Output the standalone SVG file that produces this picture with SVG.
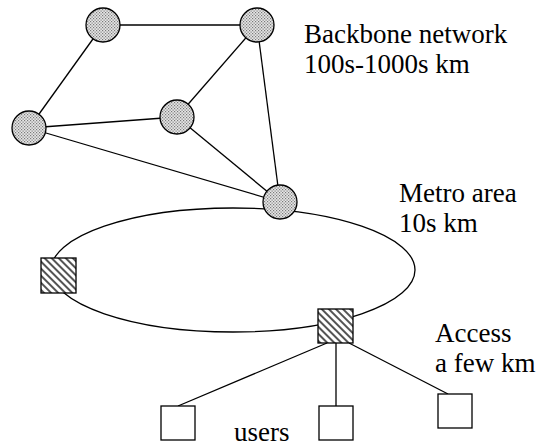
<svg xmlns="http://www.w3.org/2000/svg" width="539" height="448" viewBox="0 0 539 448">
  <defs>
    <!-- fine stipple used for backbone routers -->
    <pattern id="dots" width="3" height="3" patternUnits="userSpaceOnUse">
      <rect width="3" height="3" fill="#e6e6e6"/>
      <rect x="0" y="0" width="1.2" height="1.2" fill="#7a7a7a"/>
      <rect x="1.5" y="1.5" width="1.2" height="1.2" fill="#7a7a7a"/>
    </pattern>
    <!-- diagonal hatching used for metro switches -->
    <pattern id="hatch" width="5" height="5" patternUnits="userSpaceOnUse" patternTransform="rotate(45)">
      <rect width="5" height="5" fill="#ffffff"/>
      <rect x="0" y="0" width="5" height="2" fill="#555"/>
    </pattern>
    <style>
      .edge { stroke: #000; stroke-width: 1.3; fill: none; }
      .router { fill: url(#dots); stroke: #000; stroke-width: 1.3; }
      .switch { fill: url(#hatch); stroke: #000; stroke-width: 1.3; }
      .user { fill: #fff; stroke: #000; stroke-width: 1.3; }
      .label { font-family: "Liberation Serif", "Times New Roman", "Liberation Sans", serif; font-size: 27px; fill: #000; }
    </style>
  </defs>

  <rect width="539" height="448" fill="#fff"/>

  <g id="connectors">
    <line class="edge" x1="103" y1="25" x2="257" y2="25"/>
    <line class="edge" x1="103" y1="25" x2="29" y2="128"/>
    <line class="edge" x1="257" y1="25" x2="177" y2="117"/>
    <line class="edge" x1="257" y1="25" x2="280" y2="202"/>
    <line class="edge" x1="29" y1="128" x2="177" y2="117"/>
    <line class="edge" x1="29" y1="128" x2="280" y2="202"/>
    <line class="edge" x1="177" y1="117" x2="280" y2="202"/>
    <ellipse class="edge" cx="233" cy="270" rx="182" ry="62"/>
    <line class="edge" x1="327" y1="343" x2="178" y2="406"/>
    <line class="edge" x1="336" y1="343" x2="336" y2="406"/>
    <line class="edge" x1="349" y1="343" x2="448" y2="394"/>
  </g>

  <g id="backbone-a"><circle class="router" cx="103" cy="25" r="17"/></g>
  <g id="backbone-b"><circle class="router" cx="257" cy="25" r="17"/></g>
  <g id="backbone-c"><circle class="router" cx="29" cy="128" r="17"/></g>
  <g id="backbone-d"><circle class="router" cx="177" cy="117" r="17"/></g>
  <g id="backbone-e"><circle class="router" cx="280" cy="202" r="17"/></g>

  <g id="metro-switch-west"><rect class="switch" x="41" y="258" width="35" height="35"/></g>
  <g id="metro-switch-south"><rect class="switch" x="318" y="309" width="35" height="34"/></g>

  <g id="user-1"><rect class="user" x="161" y="406" width="34" height="34"/></g>
  <g id="user-2"><rect class="user" x="319" y="406" width="34" height="34"/></g>
  <g id="user-3"><rect class="user" x="438" y="394" width="34" height="34"/></g>

  <g id="labels">
    <text class="label" x="304" y="43">Backbone network</text>
    <text class="label" x="304" y="73">100s-1000s km</text>
    <text class="label" x="399" y="202">Metro area</text>
    <text class="label" x="399" y="232">10s km</text>
    <text class="label" x="435" y="342">Access</text>
    <text class="label" x="435" y="372">a few km</text>
    <text class="label" x="234" y="441">users</text>
  </g>
</svg>
